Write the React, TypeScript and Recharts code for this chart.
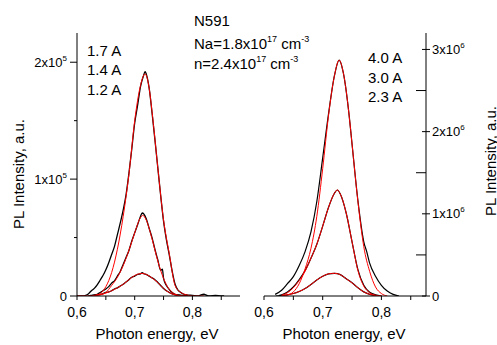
import { LineChart, Line, XAxis, YAxis } from "recharts";

const font = "'Liberation Sans', Arial, sans-serif";

// left panel, intensity in units of 10^5
const exp17A = [
  [0.6, 0], [0.605, 0], [0.61, 0], [0.615, 0.005], [0.62, 0.02], [0.625, 0.045], [0.63, 0.065],
  [0.635, 0.095], [0.64, 0.135], [0.645, 0.175], [0.65, 0.225], [0.655, 0.285], [0.66, 0.355],
  [0.665, 0.425], [0.67, 0.525], [0.675, 0.625], [0.68, 0.735], [0.685, 0.865], [0.69, 1.05],
  [0.695, 1.26], [0.7, 1.48], [0.705, 1.63], [0.71, 1.79], [0.715, 1.88], [0.718, 1.92],
  [0.72, 1.9], [0.725, 1.78], [0.73, 1.57], [0.735, 1.34], [0.74, 1.1], [0.745, 0.86],
  [0.75, 0.64], [0.755, 0.48], [0.76, 0.35], [0.765, 0.21], [0.77, 0.1], [0.775, 0.05],
  [0.78, 0.03], [0.785, 0.015], [0.79, 0.01], [0.8, 0.005], [0.81, 0], [0.815, 0.01],
  [0.82, 0.015], [0.825, 0.005], [0.83, 0], [0.84, 0.005], [0.85, 0], [0.855, 0],
];
const fit17A = [
  [0.6, 0], [0.62, 0], [0.63, 0.005], [0.64, 0.02], [0.65, 0.08], [0.66, 0.2], [0.67, 0.4],
  [0.68, 0.68], [0.69, 1.04], [0.7, 1.5], [0.71, 1.8], [0.718, 1.9], [0.725, 1.78],
  [0.73, 1.58], [0.74, 1.1], [0.75, 0.65], [0.76, 0.36], [0.77, 0.09], [0.78, 0.03],
  [0.79, 0.01], [0.8, 0], [0.82, 0],
];
const exp14A = [
  [0.62, 0], [0.625, 0.005], [0.63, 0.01], [0.635, 0.015], [0.64, 0.03], [0.645, 0.045],
  [0.65, 0.06], [0.655, 0.08], [0.66, 0.11], [0.665, 0.13], [0.67, 0.17], [0.675, 0.21],
  [0.68, 0.27], [0.685, 0.33], [0.69, 0.39], [0.695, 0.47], [0.7, 0.54], [0.705, 0.61],
  [0.71, 0.68], [0.713, 0.71], [0.716, 0.7], [0.72, 0.66], [0.725, 0.58], [0.73, 0.5],
  [0.735, 0.4], [0.74, 0.31], [0.745, 0.22], [0.748, 0.23], [0.75, 0.15], [0.755, 0.09],
  [0.76, 0.055], [0.765, 0.03], [0.77, 0.015], [0.78, 0.005], [0.79, 0],
];
const fit14A = [
  [0.63, 0], [0.64, 0.01], [0.65, 0.03], [0.66, 0.09], [0.67, 0.16], [0.68, 0.26], [0.69, 0.39],
  [0.7, 0.54], [0.71, 0.67], [0.714, 0.69], [0.72, 0.65], [0.73, 0.49], [0.74, 0.3],
  [0.75, 0.15], [0.76, 0.055], [0.77, 0.015], [0.78, 0],
];
const exp12A = [
  [0.62, 0], [0.63, 0.005], [0.635, 0.01], [0.64, 0.012], [0.645, 0.02], [0.65, 0.03],
  [0.655, 0.035], [0.66, 0.045], [0.665, 0.06], [0.67, 0.07], [0.675, 0.085], [0.68, 0.1],
  [0.685, 0.12], [0.69, 0.14], [0.695, 0.16], [0.7, 0.17], [0.705, 0.185], [0.71, 0.19],
  [0.713, 0.2], [0.716, 0.19], [0.72, 0.185], [0.725, 0.17], [0.73, 0.155], [0.735, 0.14],
  [0.74, 0.115], [0.745, 0.09], [0.75, 0.065], [0.755, 0.045], [0.76, 0.03], [0.765, 0.018],
  [0.77, 0.01], [0.78, 0.005], [0.79, 0], [0.8, 0],
];
const fit12A = [
  [0.63, 0.005], [0.64, 0.012], [0.65, 0.025], [0.66, 0.045], [0.67, 0.07], [0.68, 0.1],
  [0.69, 0.14], [0.7, 0.175], [0.712, 0.193], [0.72, 0.185], [0.73, 0.155], [0.74, 0.115],
  [0.75, 0.065], [0.76, 0.028], [0.77, 0.01], [0.78, 0.003], [0.79, 0],
];

// right panel, intensity in units of 10^6
const exp40A = [
  [0.619, 0.02], [0.63, 0.07], [0.64, 0.15], [0.65, 0.235], [0.66, 0.37], [0.67, 0.54],
  [0.68, 0.78], [0.69, 1.15], [0.7, 1.68], [0.71, 2.22], [0.72, 2.68], [0.728, 2.87],
  [0.735, 2.72], [0.745, 2.2], [0.75, 1.85], [0.76, 1.16], [0.77, 0.66], [0.775, 0.54],
  [0.78, 0.4], [0.79, 0.24], [0.8, 0.13], [0.81, 0.06], [0.82, 0.02], [0.83, 0],
];
const fit40A = [
  [0.63, 0], [0.64, 0.01], [0.65, 0.05], [0.66, 0.15], [0.67, 0.33], [0.68, 0.58], [0.69, 0.97],
  [0.7, 1.55], [0.71, 2.2], [0.72, 2.68], [0.728, 2.87], [0.735, 2.72], [0.745, 2.2],
  [0.75, 1.85], [0.76, 1.15], [0.77, 0.6], [0.78, 0.3], [0.79, 0.11], [0.8, 0.03], [0.81, 0],
];
const exp30A = [
  [0.625, 0.005], [0.63, 0.015], [0.64, 0.05], [0.65, 0.11], [0.66, 0.2], [0.67, 0.31],
  [0.68, 0.46], [0.69, 0.63], [0.7, 0.85], [0.71, 1.08], [0.72, 1.25], [0.725, 1.29],
  [0.73, 1.24], [0.74, 1.01], [0.75, 0.66], [0.76, 0.32], [0.77, 0.13], [0.78, 0.045],
  [0.79, 0.015], [0.8, 0],
];
const fit30A = [
  [0.63, 0.01], [0.64, 0.04], [0.65, 0.1], [0.66, 0.19], [0.67, 0.3], [0.68, 0.46], [0.69, 0.63],
  [0.7, 0.85], [0.71, 1.08], [0.72, 1.25], [0.725, 1.29], [0.73, 1.24], [0.74, 1.01],
  [0.75, 0.66], [0.76, 0.31], [0.77, 0.12], [0.78, 0.04], [0.79, 0.01], [0.8, 0],
];
const exp23A = [
  [0.62, 0], [0.63, 0.005], [0.64, 0.015], [0.65, 0.03], [0.66, 0.055], [0.67, 0.09],
  [0.68, 0.14], [0.69, 0.195], [0.7, 0.24], [0.71, 0.27], [0.72, 0.276], [0.73, 0.26],
  [0.74, 0.21], [0.75, 0.16], [0.76, 0.1], [0.77, 0.05], [0.78, 0.02], [0.79, 0.005], [0.8, 0],
];
const fit23A = [
  [0.63, 0.005], [0.64, 0.015], [0.65, 0.03], [0.66, 0.055], [0.67, 0.09], [0.68, 0.14],
  [0.69, 0.195], [0.7, 0.24], [0.71, 0.27], [0.72, 0.276], [0.73, 0.26], [0.74, 0.21],
  [0.75, 0.16], [0.76, 0.1], [0.77, 0.05], [0.78, 0.02], [0.79, 0.005], [0.8, 0],
];

const energyTicks = [0.6, 0.65, 0.7, 0.75, 0.8, 0.85];
const leftTicks = [0, 0.5, 1, 1.5, 2];
const rightTicks = [0, 0.5, 1, 1.5, 2, 2.5, 3];
const leftCurrents = ["1.7 A", "1.4 A", "1.2 A"];
const rightCurrents = ["4.0 A", "3.0 A", "2.3 A"];

const pts = (arr: number[][]) => arr.map(([e, v]) => ({ e, v }));
const isMajor = (v: number, step: number) => Math.abs(v / step - Math.round(v / step)) < 1e-6;

function XTick({ x, y, payload }: any) {
  const v = payload.value;
  return (
    <g>
      <line x1={x} x2={x} y1={y} y2={y + 4} stroke="#000" />
      {isMajor(v, 0.1) && (
        <text x={x} y={y + 21} textAnchor="middle" fontSize={14} fontFamily={font} fill="#000">
          {v.toFixed(1).replace(".", ",")}
        </text>
      )}
    </g>
  );
}

function LeftTick({ x, y, payload }: any) {
  const v = payload.value;
  const major = isMajor(v, 1);
  return (
    <g>
      <line x1={x - (major ? 7 : 3)} x2={x} y1={y} y2={y} stroke="#000" />
      {major && (
        <text x={x - 10} y={y + 4.5} textAnchor="end" fontSize={13} fontFamily={font} fill="#000">
          {v === 0 ? "0" : <><tspan>{v}x10</tspan><tspan dy={-6} fontSize={8}>5</tspan></>}
        </text>
      )}
    </g>
  );
}

function RightTick({ x, y, payload }: any) {
  const v = payload.value;
  const major = isMajor(v, 1);
  return (
    <g>
      {major ? (
        <line x1={x - 4} x2={x + 4} y1={y} y2={y} stroke="#000" />
      ) : (
        <line x1={x - 10} x2={x} y1={y} y2={y} stroke="#000" />
      )}
      {major && (
        <text x={x + 6} y={y + 4.5} textAnchor="start" fontSize={13} fontFamily={font} fill="#000">
          {v === 0 ? "0" : <><tspan>{v}x10</tspan><tspan dy={-6} fontSize={8}>6</tspan></>}
        </text>
      )}
    </g>
  );
}

const text: React.CSSProperties = {
  position: "absolute",
  fontFamily: font,
  fontSize: 15,
  lineHeight: "17px",
  whiteSpace: "nowrap",
  color: "#000",
};
const sup: React.CSSProperties = { fontSize: 9, position: "relative", top: -7 };

export default function App() {
  const lineProps = { dataKey: "v", type: "monotone" as const, dot: false, isAnimationActive: false };
  return (
    <div style={{ position: "absolute", left: 0, top: 0, width: 497, height: 345, background: "#fff" }}>
      <div style={{ position: "absolute", left: 0, top: 0 }}>
        <LineChart width={250} height={345} margin={{ top: 33, right: 10, bottom: 19, left: 17 }}>
          <XAxis
            dataKey="e" type="number" domain={[0.6, 0.8825]} allowDataOverflow
            ticks={energyTicks} interval={0} tickSize={0} tickMargin={0}
            tick={<XTick />} height={30} axisLine={{ stroke: "#000" }} tickLine={false}
          />
          <YAxis
            type="number" domain={[0, 2.25]} allowDataOverflow ticks={leftTicks} interval={0}
            tickSize={0} tickMargin={0} tick={<LeftTick />} width={60}
            axisLine={{ stroke: "#000" }} tickLine={false}
          />
          <Line {...lineProps} data={pts(exp12A)} stroke="#000" strokeWidth={1.3} />
          <Line {...lineProps} data={pts(exp14A)} stroke="#000" strokeWidth={1.3} />
          <Line {...lineProps} data={pts(exp17A)} stroke="#000" strokeWidth={1.3} />
          <Line {...lineProps} data={pts(fit12A)} stroke="#ff0000" strokeWidth={1} />
          <Line {...lineProps} data={pts(fit14A)} stroke="#ff0000" strokeWidth={1} />
          <Line {...lineProps} data={pts(fit17A)} stroke="#ff0000" strokeWidth={1} />
        </LineChart>
      </div>
      <div style={{ position: "absolute", left: 250, top: 0 }}>
        <LineChart width={247} height={345} margin={{ top: 33, right: 11, bottom: 19, left: 14 }}>
          <XAxis
            dataKey="e" type="number" domain={[0.6, 0.876]} allowDataOverflow
            ticks={energyTicks} interval={0} tickSize={0} tickMargin={0}
            tick={<XTick />} height={30} axisLine={{ stroke: "#000" }} tickLine={false}
          />
          <YAxis
            orientation="right" type="number" domain={[0, 3.2]} allowDataOverflow ticks={rightTicks}
            interval={0} tickSize={0} tickMargin={0} tick={<RightTick />} width={60}
            axisLine={{ stroke: "#000" }} tickLine={false}
          />
          <Line {...lineProps} data={pts(exp23A)} stroke="#000" strokeWidth={1.2} />
          <Line {...lineProps} data={pts(exp30A)} stroke="#000" strokeWidth={1.2} />
          <Line {...lineProps} data={pts(exp40A)} stroke="#000" strokeWidth={1.2} />
          <Line {...lineProps} data={pts(fit23A)} stroke="#ff0000" strokeWidth={1} />
          <Line {...lineProps} data={pts(fit30A)} stroke="#ff0000" strokeWidth={1} />
          <Line {...lineProps} data={pts(fit40A)} stroke="#ff0000" strokeWidth={1} />
        </LineChart>
      </div>

      <div style={{ ...text, left: 18, top: 174, transform: "translate(-50%, -50%) rotate(-90deg)" }}>
        PL Intensity, a.u.
      </div>
      <div style={{ ...text, left: 490, top: 161, transform: "translate(-50%, -50%) rotate(-90deg)" }}>
        PL Intensity, a.u.
      </div>
      <div style={{ ...text, left: 157, top: 333, transform: "translate(-50%, -50%)" }}>Photon energy, eV</div>
      <div style={{ ...text, left: 344, top: 333, transform: "translate(-50%, -50%)" }}>Photon energy, eV</div>

      <div style={{ ...text, left: 194, top: 12 }}>N591</div>
      <div style={{ ...text, left: 194, top: 35 }}>
        Na=1.8x10<span style={sup}>17</span> cm<span style={sup}>-3</span>
      </div>
      <div style={{ ...text, left: 194, top: 55 }}>
        n=2.4x10<span style={sup}>17</span> cm<span style={sup}>-3</span>
      </div>

      {leftCurrents.map((c, i) => (
        <div key={c} style={{ ...text, left: 87, top: 41.5 + i * 19.7 }}>{c}</div>
      ))}
      {rightCurrents.map((c, i) => (
        <div key={c} style={{ ...text, left: 368, top: 49 + i * 19.7 }}>{c}</div>
      ))}
    </div>
  );
}
